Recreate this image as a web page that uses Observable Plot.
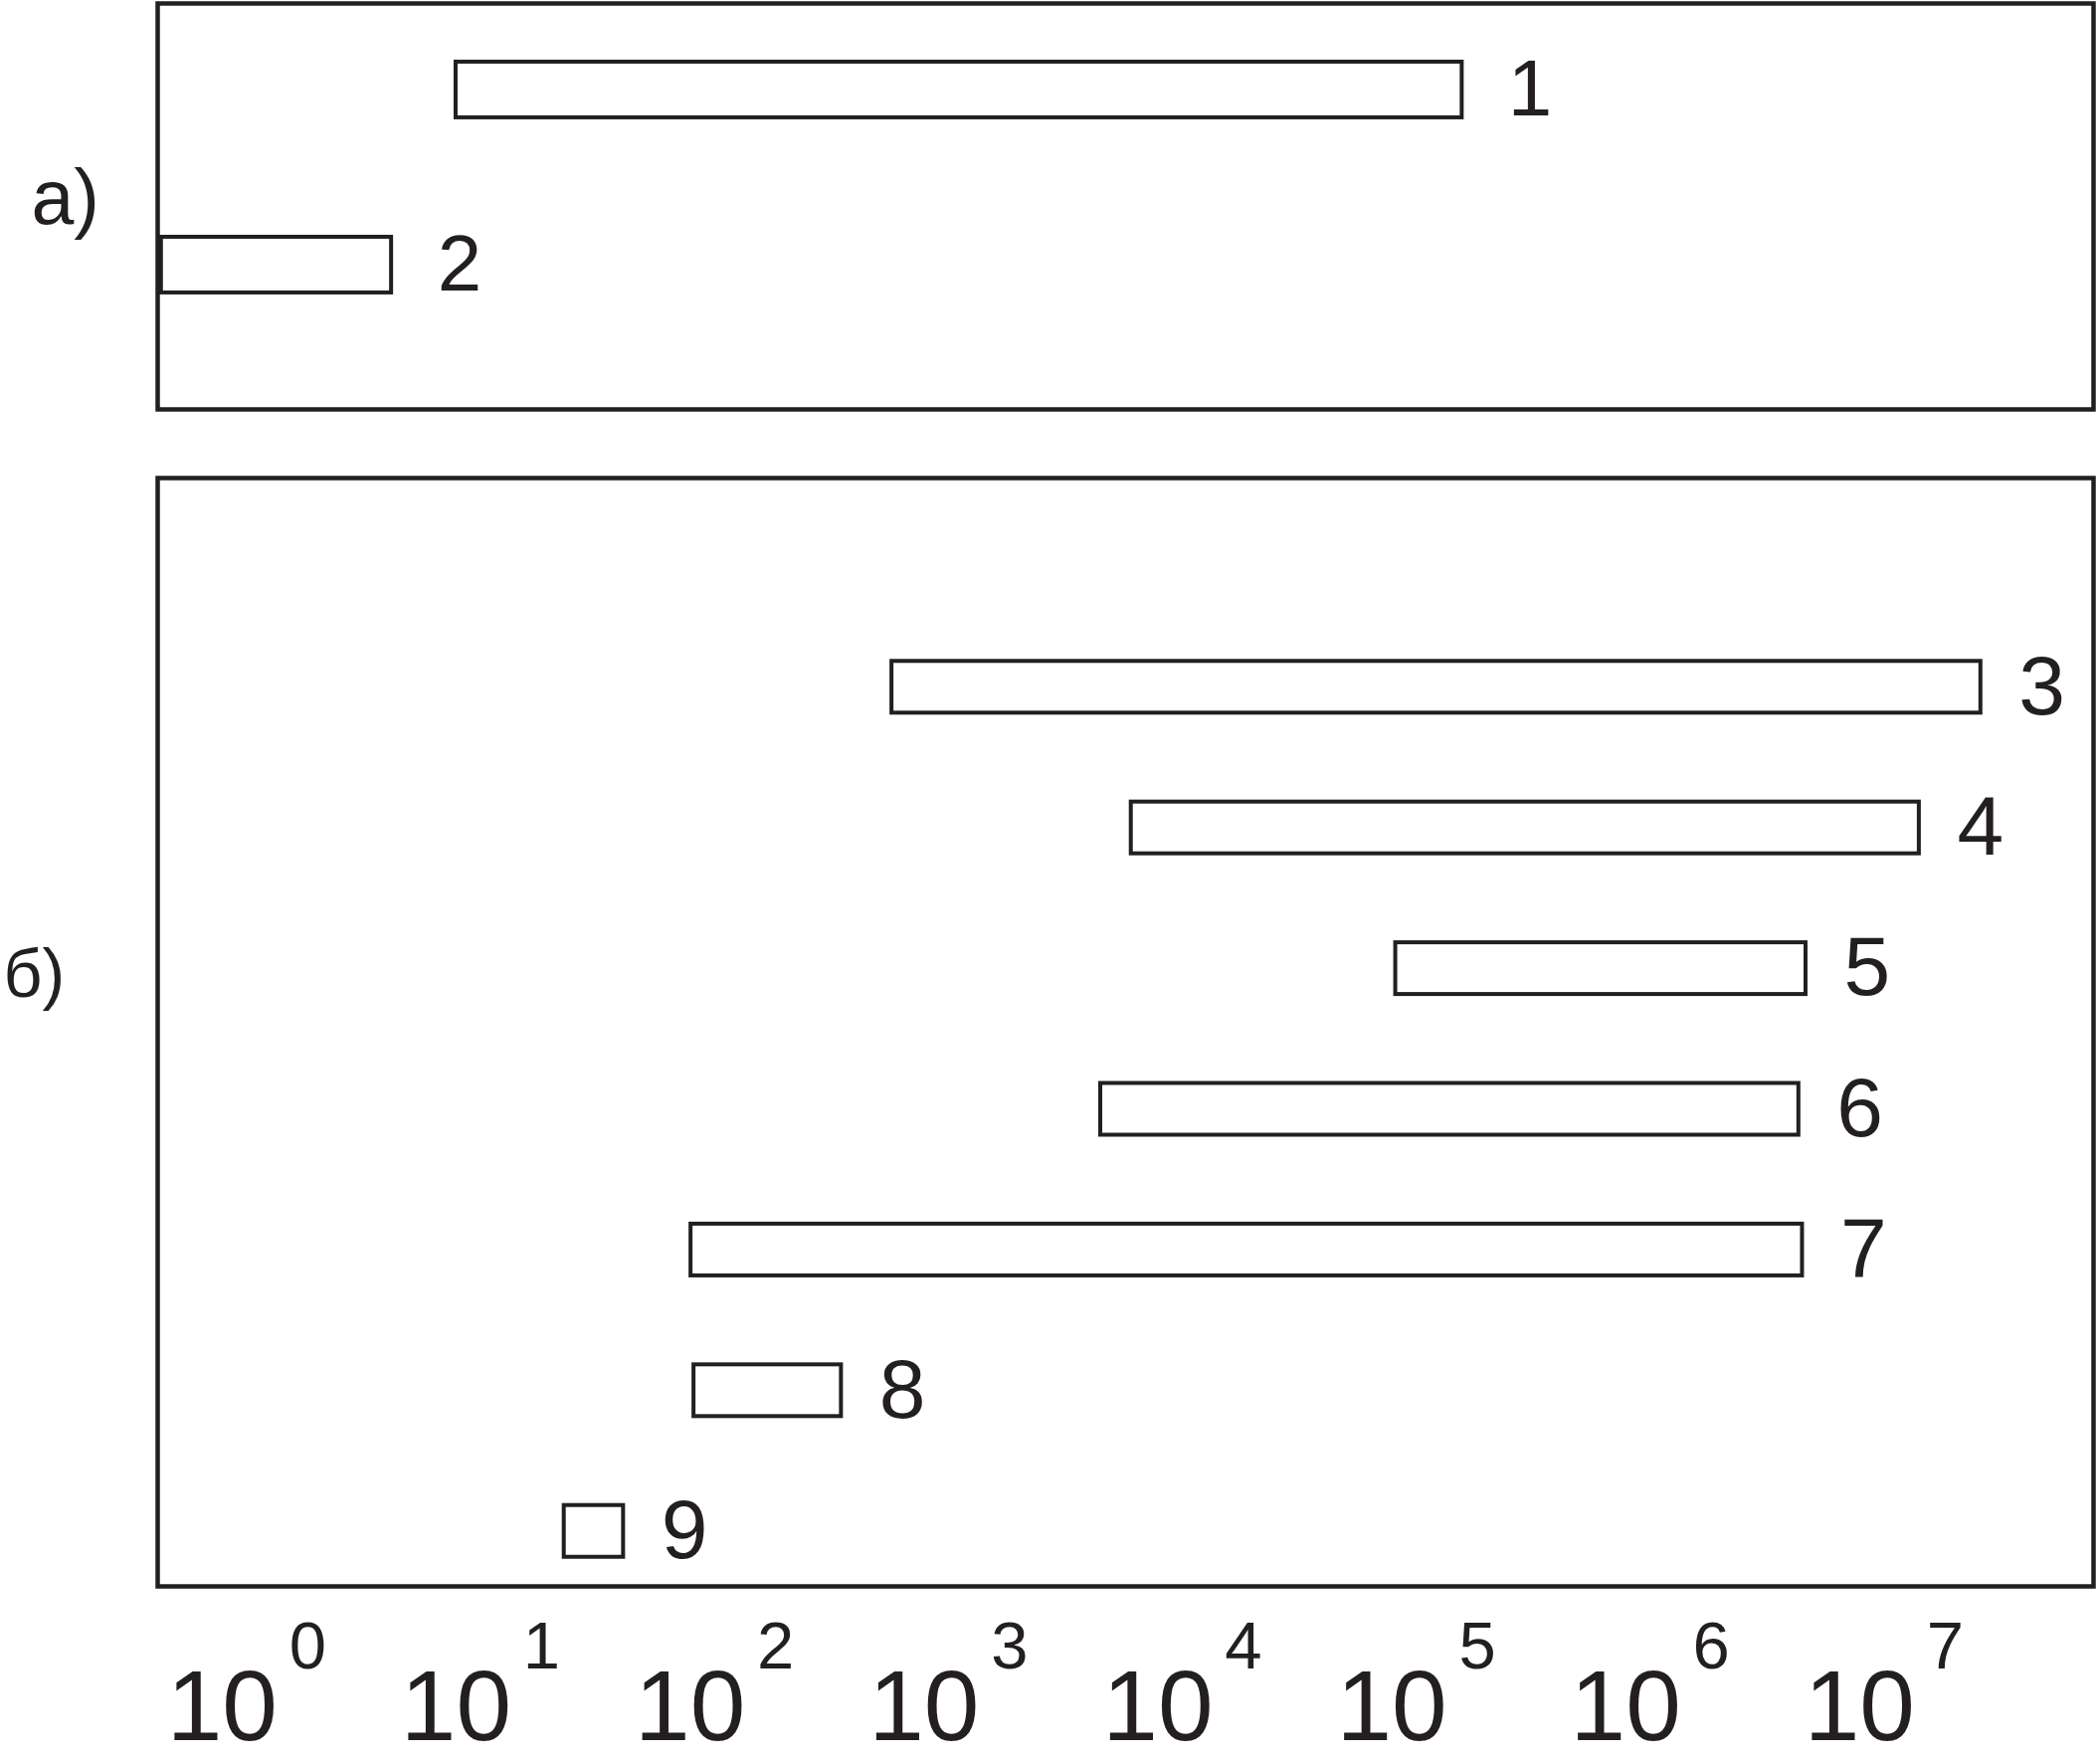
<!DOCTYPE html>
<html>
<head>
<meta charset="utf-8">
<script src="https://cdn.jsdelivr.net/npm/d3@7"></script>
<script src="https://cdn.jsdelivr.net/npm/@observablehq/plot@0.6"></script>
<style>
html, body { margin: 0; padding: 0; background: #fff; }
#chart svg { display: block; }
</style>
</head>
<body>
<div id="chart"></div>
<script>
// Panel а)
const panelA = ["1", "2"];
const lowA = [10, 0.55];
const highA = [2e5, 5.3];
// Panel б)
const panelB = ["3", "4", "5", "6", "7", "8", "9"];
const lowB = [730, 7.7e3, 1.04e5, 5.7e3, 101, 104, 29];
const highB = [3.3e7, 1.8e7, 5.9e6, 5.5e6, 5.7e6, 444, 52];
// Axis tick labels: 10^k
const tickExponents = [0, 1, 2, 3, 4, 5, 6, 7];
const panelLabels = ["а)", "б)"];

const ink = "#231f20";
const font = "'Liberation Sans', Arial, Helvetica, sans-serif";
const xOpts = () => ({type: "log", domain: [0.53, 1e8], axis: null});

const rowsA = panelA.map((id, i) => ({id, low: lowA[i], high: highA[i]}));
const rowsB = panelB.map((id, i) => ({id, low: lowB[i], high: highB[i]}));

const chartA = Plot.plot({
  width: 2111, height: 450,
  marginLeft: 158, marginRight: 7, marginTop: 3, marginBottom: 39,
  style: {fontFamily: font, background: "white", overflow: "visible"},
  x: xOpts(),
  y: {type: "band", domain: panelA, paddingInner: 0.682, paddingOuter: 0.5, align: 0.335, round: false, axis: null},
  marks: [
    Plot.frame({stroke: ink, strokeWidth: 4.5}),
    Plot.barX(rowsA, {x1: "low", x2: "high", y: "id", fill: "white", stroke: ink, strokeWidth: 4}),
    Plot.text(rowsA, {x: "high", y: "id", text: "id", dx: 46, textAnchor: "start", fontSize: 80, fill: ink}),
    Plot.text([panelLabels[0]], {frameAnchor: "left", text: d => d, dx: -127, dy: -7, textAnchor: "start", fontSize: 77, fill: ink})
  ]
});

const chartB = Plot.plot({
  width: 2111, height: 1321,
  marginLeft: 158, marginRight: 7, marginTop: 30, marginBottom: 177,
  style: {fontFamily: font, background: "white", overflow: "visible"},
  x: xOpts(),
  y: {type: "band", domain: panelB, paddingInner: 0.6322, paddingOuter: 0.755, align: 0.863, round: false, axis: null},
  marks: [
    Plot.frame({stroke: ink, strokeWidth: 4.5}),
    Plot.barX(rowsB, {x1: "low", x2: "high", y: "id", fill: "white", stroke: ink, strokeWidth: 4}),
    Plot.text(rowsB, {x: "high", y: "id", text: "id", dx: 38, textAnchor: "start", fontSize: 84, fill: ink}),
    Plot.text(tickExponents, {x: d => 10 ** d, frameAnchor: "bottom", text: () => "10", lineAnchor: "bottom", dy: 154, fontSize: 100, fill: ink}),
    Plot.text(tickExponents, {x: d => 10 ** d, frameAnchor: "bottom", text: d => String(d), lineAnchor: "bottom", dx: 86, dy: 82, fontSize: 67, fill: ink}),
    Plot.text([panelLabels[1]], {frameAnchor: "left", text: d => d, dx: -155, dy: -57, textAnchor: "start", fontSize: 68, fill: ink})
  ]
});

document.getElementById("chart").append(chartA, chartB);
</script>
</body>
</html>
